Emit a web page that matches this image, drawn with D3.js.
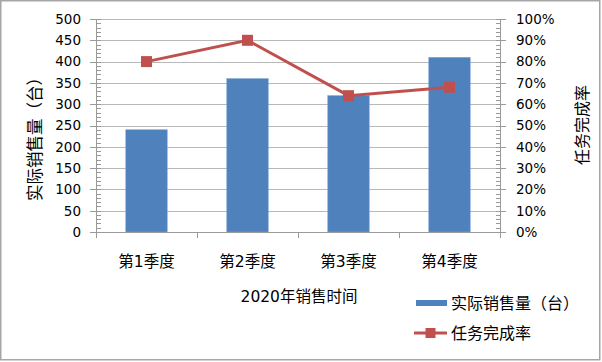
<!DOCTYPE html>
<html>
<head>
<meta charset="utf-8">
<script src="https://cdn.jsdelivr.net/npm/d3@7"></script>
<style>
  body { margin: 0; background: #fff; }
  text { font-family: "DejaVu Sans", "Noto Sans CJK SC", sans-serif; fill: #000; }
</style>
</head>
<body>
<div id="chart"></div>
<script>
// Data
const quarters = ["第1季度", "第2季度", "第3季度", "第4季度"];
const sales = [240, 360, 320, 410];
const completion = [0.80, 0.90, 0.64, 0.68];
const salesTicks = [0, 50, 100, 150, 200, 250, 300, 350, 400, 450, 500];
const rateTicks = [0, 0.1, 0.2, 0.3, 0.4, 0.5, 0.6, 0.7, 0.8, 0.9, 1.0];

const W = 602, H = 362;
const plot = {left: 96, right: 500, top: 19, bottom: 232};
const axisColor = "#9a9a9a";
const gridColor = "#b8b8b8";
const barColor = "#4f81bd";
const lineColor = "#c0504d";

const svg = d3.select("#chart")
    .append("svg")
    .attr("width", W)
    .attr("height", H);

// Outer border
svg.append("rect")
    .attr("x", 0.75).attr("y", 0.75)
    .attr("width", W - 3).attr("height", H - 3)
    .attr("fill", "#fff")
    .attr("stroke", "#a6a6a6")
    .attr("stroke-width", 1.5);

// Scales
const x = d3.scaleBand().domain(quarters).range([plot.left, plot.right]).padding(0);
const yLeft = d3.scaleLinear().domain([0, 500]).range([plot.bottom, plot.top]);
const yRight = d3.scaleLinear().domain([0, 1]).range([plot.bottom, plot.top]);

// Gridlines
svg.append("g")
    .selectAll("line")
    .data(salesTicks.filter(d => d > 0))
    .join("line")
    .attr("x1", plot.left).attr("x2", plot.right)
    .attr("y1", d => Math.round(yLeft(d)) + 0.5)
    .attr("y2", d => Math.round(yLeft(d)) + 0.5)
    .attr("stroke", gridColor)
    .attr("stroke-width", 1);

// Bars
const barW = x.bandwidth() * 0.41;
svg.append("g")
    .selectAll("rect")
    .data(sales)
    .join("rect")
    .attr("x", (d, i) => x(quarters[i]) + (x.bandwidth() - barW) / 2)
    .attr("y", d => yLeft(d))
    .attr("width", barW)
    .attr("height", d => plot.bottom - yLeft(d))
    .attr("fill", barColor)
    .attr("stroke", "#7ea3d4")
    .attr("stroke-width", 0.6);

// Left axis: major ticks outside, minor ticks inside
const left = svg.append("g");
left.append("line")
    .attr("x1", plot.left + 0.5).attr("x2", plot.left + 0.5)
    .attr("y1", plot.top).attr("y2", plot.bottom)
    .attr("stroke", axisColor);
left.selectAll(".minor")
    .data(d3.range(0, 501, 10))
    .join("line")
    .attr("x1", plot.left).attr("x2", plot.left + 5)
    .attr("y1", d => Math.round(yLeft(d)) + 0.5)
    .attr("y2", d => Math.round(yLeft(d)) + 0.5)
    .attr("stroke", axisColor);
left.selectAll(".major")
    .data(salesTicks)
    .join("line")
    .attr("x1", plot.left - 6).attr("x2", plot.left)
    .attr("y1", d => Math.round(yLeft(d)) + 0.5)
    .attr("y2", d => Math.round(yLeft(d)) + 0.5)
    .attr("stroke", axisColor);
left.selectAll("text")
    .data(salesTicks)
    .join("text")
    .attr("x", 81)
    .attr("y", d => yLeft(d))
    .attr("dy", "0.36em")
    .attr("text-anchor", "end")
    .attr("font-size", 13.5)
    .text(d => d);

// Right axis: major ticks outside, minor ticks inside
const right = svg.append("g");
right.append("line")
    .attr("x1", plot.right + 0.5).attr("x2", plot.right + 0.5)
    .attr("y1", plot.top).attr("y2", plot.bottom)
    .attr("stroke", axisColor);
right.selectAll(".minor")
    .data(d3.range(0, 51, 1).map(d => d / 50))
    .join("line")
    .attr("x1", plot.right - 4).attr("x2", plot.right)
    .attr("y1", d => Math.round(yRight(d)) + 0.5)
    .attr("y2", d => Math.round(yRight(d)) + 0.5)
    .attr("stroke", axisColor);
right.selectAll(".major")
    .data(rateTicks)
    .join("line")
    .attr("x1", plot.right).attr("x2", plot.right + 6)
    .attr("y1", d => Math.round(yRight(d)) + 0.5)
    .attr("y2", d => Math.round(yRight(d)) + 0.5)
    .attr("stroke", axisColor);
right.selectAll("text")
    .data(rateTicks)
    .join("text")
    .attr("x", 516)
    .attr("y", d => yRight(d))
    .attr("dy", "0.36em")
    .attr("font-size", 13.5)
    .text(d => d3.format(".0%")(d));

// Bottom axis
const bottom = svg.append("g");
bottom.append("line")
    .attr("x1", plot.left).attr("x2", plot.right + 1)
    .attr("y1", plot.bottom + 0.5).attr("y2", plot.bottom + 0.5)
    .attr("stroke", axisColor);
bottom.selectAll(".tick")
    .data(quarters.map(q => x(q)).concat([plot.right]))
    .join("line")
    .attr("x1", d => Math.round(d) + 0.5).attr("x2", d => Math.round(d) + 0.5)
    .attr("y1", plot.bottom).attr("y2", plot.bottom + 6)
    .attr("stroke", axisColor);
bottom.selectAll("text")
    .data(quarters)
    .join("text")
    .attr("x", d => x(d) + x.bandwidth() / 2)
    .attr("y", 261)
    .attr("dy", "0.36em")
    .attr("text-anchor", "middle")
    .attr("font-size", 15.5)
    .text(d => d);

// Axis titles
svg.append("text")
    .attr("transform", "translate(35,135) rotate(-90)")
    .attr("text-anchor", "middle")
    .attr("dy", "0.36em")
    .attr("font-size", 16.5)
    .text("实际销售量（台）");
svg.append("text")
    .attr("transform", "translate(582,125) rotate(-90)")
    .attr("text-anchor", "middle")
    .attr("dy", "0.36em")
    .attr("font-size", 16)
    .text("任务完成率");
svg.append("text")
    .attr("x", 299)
    .attr("y", 296)
    .attr("dy", "0.36em")
    .attr("text-anchor", "middle")
    .attr("font-size", 15.5)
    .text("2020年销售时间");

// Completion line
const line = d3.line()
    .x((d, i) => x(quarters[i]) + x.bandwidth() / 2)
    .y(d => yRight(d));
svg.append("path")
    .datum(completion)
    .attr("d", line)
    .attr("fill", "none")
    .attr("stroke", lineColor)
    .attr("stroke-width", 3);
svg.append("g")
    .selectAll("rect")
    .data(completion)
    .join("rect")
    .attr("x", (d, i) => x(quarters[i]) + x.bandwidth() / 2 - 5.5)
    .attr("y", d => yRight(d) - 5.5)
    .attr("width", 11).attr("height", 11)
    .attr("fill", lineColor);

// Legend
const legend = svg.append("g");
legend.append("rect")
    .attr("x", 416).attr("y", 300)
    .attr("width", 31).attr("height", 6)
    .attr("fill", barColor);
legend.append("text")
    .attr("x", 451).attr("y", 303)
    .attr("dy", "0.36em")
    .attr("font-size", 16)
    .text("实际销售量（台）");
legend.append("line")
    .attr("x1", 414).attr("x2", 447)
    .attr("y1", 333).attr("y2", 333)
    .attr("stroke", lineColor)
    .attr("stroke-width", 3);
legend.append("rect")
    .attr("x", 425.5).attr("y", 328)
    .attr("width", 10).attr("height", 10)
    .attr("fill", lineColor);
legend.append("text")
    .attr("x", 451).attr("y", 333)
    .attr("dy", "0.36em")
    .attr("font-size", 16)
    .text("任务完成率");
</script>
</body>
</html>
